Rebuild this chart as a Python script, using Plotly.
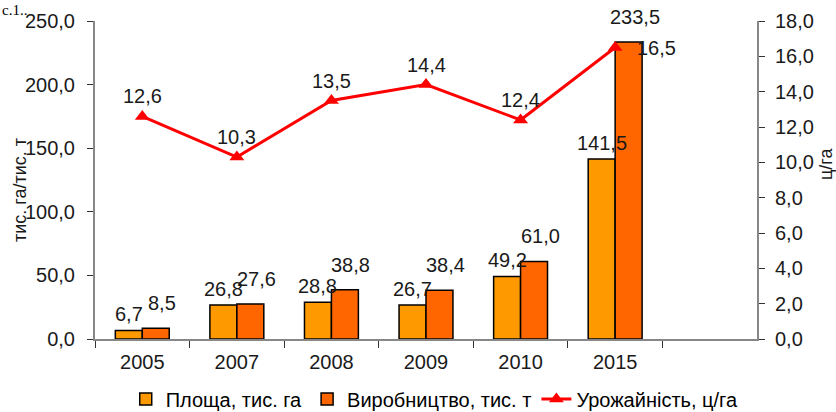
import plotly.graph_objects as go

years = ["2005", "2007", "2008", "2009", "2010", "2015"]
area = [6.7, 26.8, 28.8, 26.7, 49.2, 141.5]          # Площа, тис. га
production = [8.5, 27.6, 38.8, 38.4, 61.0, 233.5]    # Виробництво, тис. т
yield_ = [12.6, 10.3, 13.5, 14.4, 12.4, 16.5]        # Урожайність, ц/га

name_area = "Площа, тис. га"
name_prod = "Виробництво, тис. т"
name_yield = "Урожайність, ц/га"
title_left = "тис. га/тис. т"
title_right = "ц/га"

W, H = 836, 412
ML, MR, MT, MB = 95, 79, 21, 73
FONT = "Liberation Sans, Arial, sans-serif"
FS = 20
TXT = "#1a1a1a"
n_slots = len(years) + 1
bargap = 0.43
slot_px = (W - ML - MR) / n_slots
bar_px = slot_px * (1 - bargap) / 2

def fmt(v):
    return f"{v:.1f}".replace(".", ",")

fig = go.Figure()
fig.add_trace(go.Bar(x=years, y=area, name=name_area,
                     marker=dict(color="#FF9900", line=dict(color="#000000", width=1.5))))
fig.add_trace(go.Bar(x=years, y=production, name=name_prod,
                     marker=dict(color="#FF6600", line=dict(color="#000000", width=1.5))))
fig.add_trace(go.Scatter(x=years, y=yield_, name=name_yield, yaxis="y2",
                         mode="lines+markers",
                         line=dict(color="#FF0000", width=3),
                         marker=dict(symbol="triangle-up", size=13, color="#FF0000"),
                         cliponaxis=False))

lab_font = dict(family=FONT, size=FS, color=TXT)
title_font = dict(family=FONT, size=18, color=TXT)
annotations = []
for i, (a, p, yv) in enumerate(zip(area, production, yield_)):
    annotations.append(dict(x=i, y=a, xref="x", yref="y", text=fmt(a), showarrow=False,
                            xshift=-bar_px / 2, yshift=16, font=lab_font))
    annotations.append(dict(x=i, y=p, xref="x", yref="y", text=fmt(p), showarrow=False,
                            xshift=bar_px / 2 + 6, yshift=25, font=lab_font))
    last = i == len(years) - 1
    annotations.append(dict(x=i, y=yv, xref="x", yref="y2", text=fmt(yv), showarrow=False,
                            xshift=41 if last else 0, yshift=0 if last else 20, font=lab_font))
# axis titles (positioned in page pixels via paper + shift)
annotations.append(dict(x=0, y=0.5, xref="paper", yref="paper", text=title_left,
                        xanchor="center", yanchor="middle",
                        showarrow=False, textangle=-90, xshift=-ML + 20, yshift=-10,
                        font=title_font))
annotations.append(dict(x=1, y=0.5, xref="paper", yref="paper", text=title_right,
                        xanchor="center", yanchor="middle",
                        showarrow=False, textangle=-90, xshift=MR - 54, yshift=16,
                        font=title_font))
annotations[-1]["xshift"] = 826 - (W - MR)
annotations.append(dict(x=0, y=1, xref="paper", yref="paper", xanchor="left", yanchor="top",
                        text="с.1..", showarrow=False, xshift=-ML, yshift=MT,
                        font=dict(family="Liberation Serif, Times New Roman, serif", size=15,
                                  color="#000000")))

axis_color = "#878787"
tick_font = dict(family=FONT, size=FS, color=TXT)
fig.update_layout(
    width=W, height=H,
    margin=dict(l=ML, r=MR, t=MT, b=MB, autoexpand=False),
    paper_bgcolor="white", plot_bgcolor="white",
    separators=", ",
    barmode="group", bargap=bargap, bargroupgap=0,
    font=dict(family=FONT, size=FS, color=TXT),
    showlegend=True,
    legend=dict(orientation="h", x=0.52, xanchor="center", xref="container",
                y=(H - 399) / H, yanchor="middle", yref="container",
                font=dict(family=FONT, size=FS, color="#000000"),
                itemwidth=30, tracegroupgap=0, bgcolor="rgba(0,0,0,0)"),
    xaxis=dict(type="category", categoryorder="array", categoryarray=years,
               range=[-0.5, n_slots - 0.5], showline=True, linecolor=axis_color, linewidth=2,
               ticks="outside", tickson="boundaries", ticklen=7, tickcolor="#333333",
               ticklabelstandoff=4,
               showgrid=False, zeroline=False, tickfont=tick_font),
    yaxis=dict(range=[0, 250], dtick=50, tickformat=".1f", showline=True,
               linecolor=axis_color, linewidth=2, ticks="outside", ticklen=6,
               ticklabelstandoff=8,
               tickcolor="#333333", showgrid=False, zeroline=False, tickfont=tick_font),
    yaxis2=dict(range=[0, 18], dtick=2, tickformat=".1f", overlaying="y", side="right",
                showline=True, linecolor=axis_color, linewidth=2, ticks="outside", ticklen=6,
                ticklabelstandoff=6,
                tickcolor="#333333", showgrid=False, zeroline=False, tickfont=tick_font),
    annotations=annotations,
)

fig.write_html("out.html", config={"displayModeBar": False},
               post_script="document.body.style.margin='0';document.body.style.overflow='hidden';")
